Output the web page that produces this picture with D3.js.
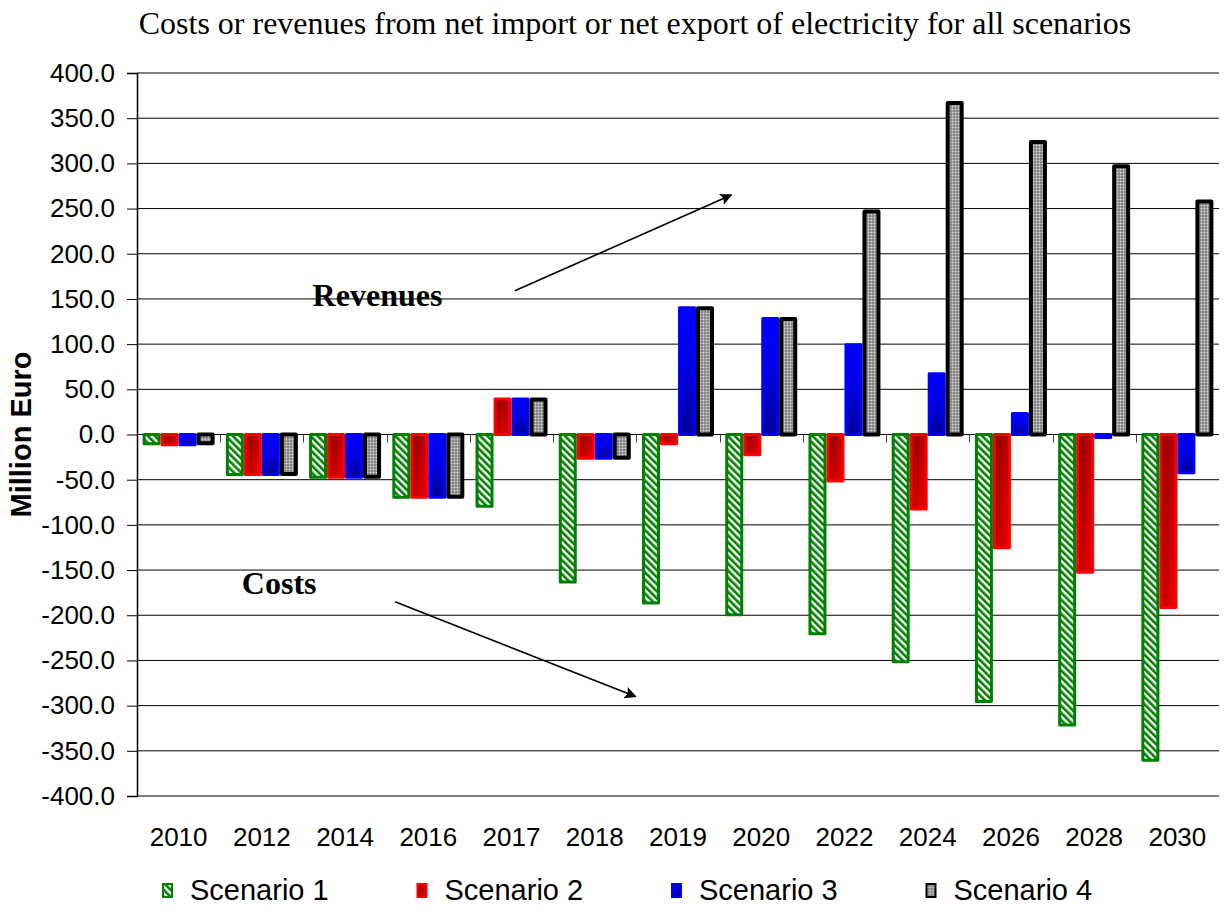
<!DOCTYPE html>
<html lang="en">
<head>
<meta charset="UTF-8">
<title>Costs or revenues from net import or net export of electricity</title>
<script src="https://cdn.jsdelivr.net/npm/d3@7/dist/d3.min.js"></script>
<style>
  body { margin: 0; background: #fff; }
  svg { display: block; }
  .tick-label { font-family: 'Liberation Sans', Arial, sans-serif; font-size: 26px; fill: #000; }
</style>
</head>
<body>
<script>
// chart data
var categories = ["2010", "2012", "2014", "2016", "2017", "2018", "2019", "2020", "2022", "2024", "2026", "2028", "2030"];
var scenario1 = [-12, -46, -49, -71, -81, -165, -188, -201, -222, -253, -297, -323, -362];
var scenario2 = [-13, -46, -49, -71, 41, -28, -12, -24, -53, -84, -127, -154, -193];
var scenario3 = [-13, -46, -49, -71, 41, -28, 142, 130, 101, 69, 25, -5, -44];
var scenario4 = [-12, -46, -49, -71, 41, -28, 142, 130, 249, 369, 326, 299, 260];
var seriesNames = ["Scenario 1", "Scenario 2", "Scenario 3", "Scenario 4"];
var yTicks = [400, 350, 300, 250, 200, 150, 100, 50, 0, -50, -100, -150, -200, -250, -300, -350, -400];

var W = 1225, H = 909;
var margin = {left: 137, right: 1219, top: 73, bottom: 796};

var svg = d3.select('body').append('svg').attr('width', W).attr('height', H);
var defs = svg.append('defs');

// scenario 1: green diagonal hatch
var p1 = defs.append('pattern').attr('id', 'hatch').attr('patternUnits', 'userSpaceOnUse')
  .attr('width', 5).attr('height', 5).attr('patternTransform', 'rotate(-45)');
p1.append('rect').attr('width', 5).attr('height', 5).attr('fill', '#fff');
p1.append('rect').attr('width', 2.6).attr('height', 5).attr('fill', '#008000');

// scenario 2: dark red to red gradient
var g2 = defs.append('linearGradient').attr('id', 'red').attr('x1', 0).attr('y1', 0).attr('x2', 1).attr('y2', 1);
g2.append('stop').attr('offset', 0).attr('stop-color', '#8e0000');
g2.append('stop').attr('offset', 1).attr('stop-color', '#ee0000');

// scenario 3: blue to dark blue gradient
var g3 = defs.append('linearGradient').attr('id', 'blue').attr('x1', 0).attr('y1', 0).attr('x2', 0).attr('y2', 1);
g3.append('stop').attr('offset', 0).attr('stop-color', '#0000ff');
g3.append('stop').attr('offset', 0.45).attr('stop-color', '#0000e6');
g3.append('stop').attr('offset', 1).attr('stop-color', '#000098');

// scenario 4: gray dots
var p4 = defs.append('pattern').attr('id', 'dots').attr('patternUnits', 'userSpaceOnUse')
  .attr('width', 3).attr('height', 3);
p4.append('rect').attr('width', 3).attr('height', 3).attr('fill', '#808080');
p4.append('circle').attr('cx', 1.5).attr('cy', 1.5).attr('r', 0.95).attr('fill', '#dcdcdc');

var styles = [
  {fill: 'url(#hatch)', stroke: '#008000', sw: 3},
  {fill: 'url(#red)', stroke: '#ff0000', sw: 3},
  {fill: 'url(#blue)', stroke: '#0000ff', sw: 3},
  {fill: 'url(#dots)', stroke: '#000', sw: 4}
];

// arrowhead
defs.append('marker').attr('id', 'arrow').attr('viewBox', '0 0 10 10').attr('refX', 9).attr('refY', 5)
  .attr('markerWidth', 15).attr('markerHeight', 12).attr('markerUnits', 'userSpaceOnUse').attr('orient', 'auto')
  .append('path').attr('d', 'M0,0 L10,5 L0,10 L2,5 z').attr('fill', '#000');

var x0 = d3.scaleBand().domain(categories).range([margin.left, margin.right]).paddingInner(0).paddingOuter(0);
var groupW = 72;
var x1 = d3.scaleBand().domain(d3.range(4)).range([0, groupW]);
var y = d3.scaleLinear().domain([-400, 400]).range([margin.bottom, margin.top]);
var xPos = d3.scaleLinear().domain([0, categories.length]).range([margin.left, margin.right]);

// title
svg.append('text').attr('x', 635).attr('y', 34).attr('text-anchor', 'middle')
  .style('font-family', "'Liberation Serif', 'Times New Roman', serif").style('font-size', '32px')
  .text('Costs or revenues from net import or net export of electricity for all scenarios');

// grid lines
svg.append('g').selectAll('line').data(yTicks).join('line')
  .attr('x1', margin.left).attr('x2', margin.right)
  .attr('y1', d => y(d)).attr('y2', d => y(d))
  .attr('stroke', '#000').attr('stroke-width', 1);

// y axis
var yAxis = svg.append('g').attr('transform', 'translate(' + margin.left + ',0)')
  .call(d3.axisLeft(y).tickValues(yTicks).tickFormat(d3.format('.1f')).tickSize(10).tickPadding(12));
yAxis.select('.domain').attr('stroke', '#000').attr('stroke-width', 1.5);
yAxis.selectAll('.tick line').attr('stroke', '#000');
yAxis.selectAll('.tick text').attr('class', 'tick-label').attr('font-family', null).attr('font-size', null)
  .text(d => d3.format('.1f')(d).replace('−', '-'));

// category ticks on the zero line
svg.append('g').selectAll('line').data(categories.slice(1)).join('line')
  .attr('x1', d => Math.round(x0(d)) + 0.5).attr('x2', d => Math.round(x0(d)) + 0.5)
  .attr('y1', y(0)).attr('y2', y(0) + 8)
  .attr('stroke', '#444').attr('stroke-width', 1);

// category labels
svg.append('g').selectAll('text').data(categories).join('text')
  .attr('class', 'tick-label')
  .attr('x', d => x0(d) + x0.bandwidth() / 2).attr('y', 846)
  .attr('text-anchor', 'middle').text(d => d);

// y axis title
svg.append('text').attr('transform', 'translate(31,' + y(0) + ') rotate(-90)')
  .attr('text-anchor', 'middle')
  .style('font-family', "'Liberation Sans', Arial, sans-serif").style('font-size', '29px').style('font-weight', 'bold')
  .text('Million Euro');

// bars
var allSeries = [scenario1, scenario2, scenario3, scenario4];
var offset = (x0.bandwidth() - groupW) / 2;
allSeries.forEach(function (vals, si) {
  var st = styles[si];
  svg.append('g').selectAll('rect').data(vals).join('rect')
    .attr('x', (d, i) => x0(categories[i]) + offset + x1(si) + st.sw / 2)
    .attr('width', x1.bandwidth() - st.sw)
    .attr('y', d => d >= 0 ? y(d) + st.sw / 2 : y(0))
    .attr('height', d => Math.max(0, Math.abs(y(d) - y(0)) - st.sw / 2))
    .attr('fill', st.fill).attr('stroke', st.stroke).attr('stroke-width', st.sw)
    .attr('stroke-linejoin', 'round');
});

// annotations
var annotations = [
  {text: 'Revenues', c: 2.11, v: 142},
  {text: 'Costs', c: 1.26, v: -177}
];
var arrows = [
  {c1: 4.54, v1: 159, c2: 7.14, v2: 265},
  {c1: 3.10, v1: -185, c2: 5.99, v2: -290}
];
svg.append('g').selectAll('text').data(annotations).join('text')
  .attr('x', d => xPos(d.c)).attr('y', d => y(d.v))
  .style('font-family', "'Liberation Serif', 'Times New Roman', serif").style('font-size', '32px').style('font-weight', 'bold')
  .text(d => d.text);
svg.append('g').selectAll('line').data(arrows).join('line')
  .attr('x1', d => xPos(d.c1)).attr('y1', d => y(d.v1))
  .attr('x2', d => xPos(d.c2)).attr('y2', d => y(d.v2))
  .attr('stroke', '#000').attr('stroke-width', 1.6).attr('marker-end', 'url(#arrow)');

// legend
var legend = svg.append('g').selectAll('g').data(seriesNames).join('g')
  .attr('transform', (d, i) => 'translate(' + (162 + i * 254.5) + ',883)');
legend.append('rect').attr('x', 1).attr('y', 1).attr('width', 9).attr('height', 13)
  .attr('fill', (d, i) => styles[i].fill).attr('stroke', (d, i) => styles[i].stroke).attr('stroke-width', 2);
legend.append('text').attr('class', 'tick-label').attr('x', 28).attr('y', 17)
  .style('font-size', '29px').text(d => d);
</script>
</body>
</html>
